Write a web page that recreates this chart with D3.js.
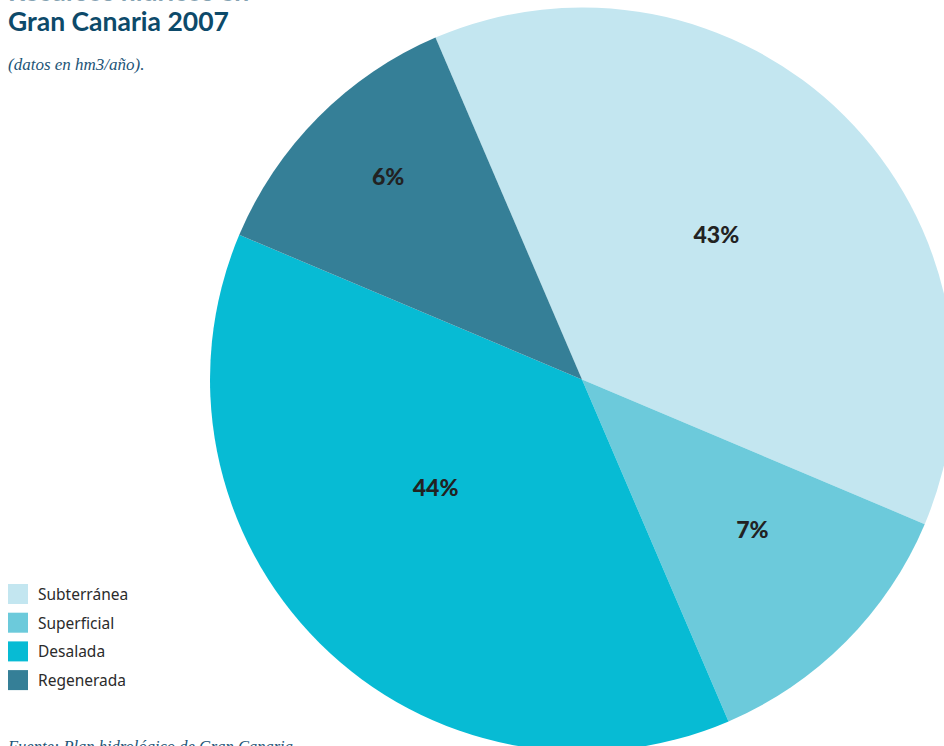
<!DOCTYPE html>
<html>
<head>
<meta charset="utf-8">
<script src="https://cdn.jsdelivr.net/npm/d3@7"></script>
<style>
  body { margin: 0; background: #fff; overflow: hidden; }
  svg { display: block; }
</style>
</head>
<body>
<div id="chart"></div>
<script>
// pie data (slice sizes as drawn, labels as printed)
var categories = ["Subterránea", "Superficial", "Desalada", "Regenerada"];
var values = [37.8, 12.2, 37.8, 12.2];
var labels = ["43%", "7%", "44%", "6%"];
var colors = ["#c3e6f0", "#6ccadb", "#07bbd4", "#357f97"];

var width = 944, height = 746;
var cx = 582, cy = 379.5, radius = 372;

var svg = d3.select("#chart").append("svg")
    .attr("width", width)
    .attr("height", height);

// title
svg.append("text")
    .attr("x", 8)
    .attr("y", 1)
    .attr("font-family", "Lato, sans-serif")
    .attr("font-weight", "bold")
    .attr("font-size", 26.5)
    .attr("fill", "#0d4a6a")
    .attr("opacity", 0.5)
    .text("Recursos hídricos en");

svg.append("text")
    .attr("x", 8)
    .attr("y", 31)
    .attr("font-family", "Lato, sans-serif")
    .attr("font-weight", "bold")
    .attr("font-size", 26.5)
    .attr("fill", "#0d4a6a")
    .text("Gran Canaria 2007");

svg.append("text")
    .attr("x", 8)
    .attr("y", 70)
    .attr("font-family", "'Liberation Serif', serif")
    .attr("font-style", "italic")
    .attr("font-size", 17)
    .attr("fill", "#1d5577")
    .text("(datos en hm3/año).");

// pie
var pie = d3.pie()
    .sort(null)
    .startAngle(-23.2 * Math.PI / 180)
    .endAngle((360 - 23.2) * Math.PI / 180);

var arcs = pie(values);

var arc = d3.arc()
    .innerRadius(0)
    .outerRadius(radius);

var g = svg.append("g")
    .attr("transform", "translate(" + cx + "," + cy + ")");

g.selectAll(".slice")
    .data(arcs)
    .enter()
    .append("path")
    .attr("class", "slice")
    .attr("d", arc)
    .attr("fill", function (d, i) { return colors[i]; });

// label placement tweaks: [fraction of radius, angle offset in degrees]
var labelPlace = [[0.53, -1.9], [0.61, -3.5], [0.49, 8.6], [0.755, 1.5]];

g.selectAll(".pct")
    .data(arcs)
    .enter()
    .append("text")
    .attr("class", "pct")
    .attr("x", function (d, i) {
        var a = (d.startAngle + d.endAngle) / 2 + labelPlace[i][1] * Math.PI / 180;
        return Math.sin(a) * radius * labelPlace[i][0];
    })
    .attr("y", function (d, i) {
        var a = (d.startAngle + d.endAngle) / 2 + labelPlace[i][1] * Math.PI / 180;
        return -Math.cos(a) * radius * labelPlace[i][0];
    })
    .attr("text-anchor", "middle")
    .attr("dy", "0.36em")
    .attr("font-family", "Lato, sans-serif")
    .attr("font-weight", "900")
    .attr("font-size", 23)
    .attr("fill", "#222")
    .text(function (d, i) { return labels[i]; });

// legend
var legend = svg.append("g")
    .attr("transform", "translate(8,584)");

var rows = legend.selectAll(".row")
    .data(categories)
    .enter()
    .append("g")
    .attr("class", "row")
    .attr("transform", function (d, i) { return "translate(0," + (i * 28.7) + ")"; });

rows.append("rect")
    .attr("width", 20)
    .attr("height", 20)
    .attr("fill", function (d, i) { return colors[i]; });

rows.append("text")
    .attr("x", 30)
    .attr("y", 16)
    .attr("font-family", "'Noto Sans', sans-serif")
    .attr("font-size", 15.5)
    .attr("fill", "#2b2b2b")
    .text(function (d) { return d; });

// source
svg.append("text")
    .attr("x", 8)
    .attr("y", 752)
    .attr("font-family", "'Liberation Serif', serif")
    .attr("font-style", "italic")
    .attr("font-size", 16.5)
    .attr("fill", "#1d5577")
    .text("Fuente: Plan hidrológico de Gran Canaria");
</script>
</body>
</html>
